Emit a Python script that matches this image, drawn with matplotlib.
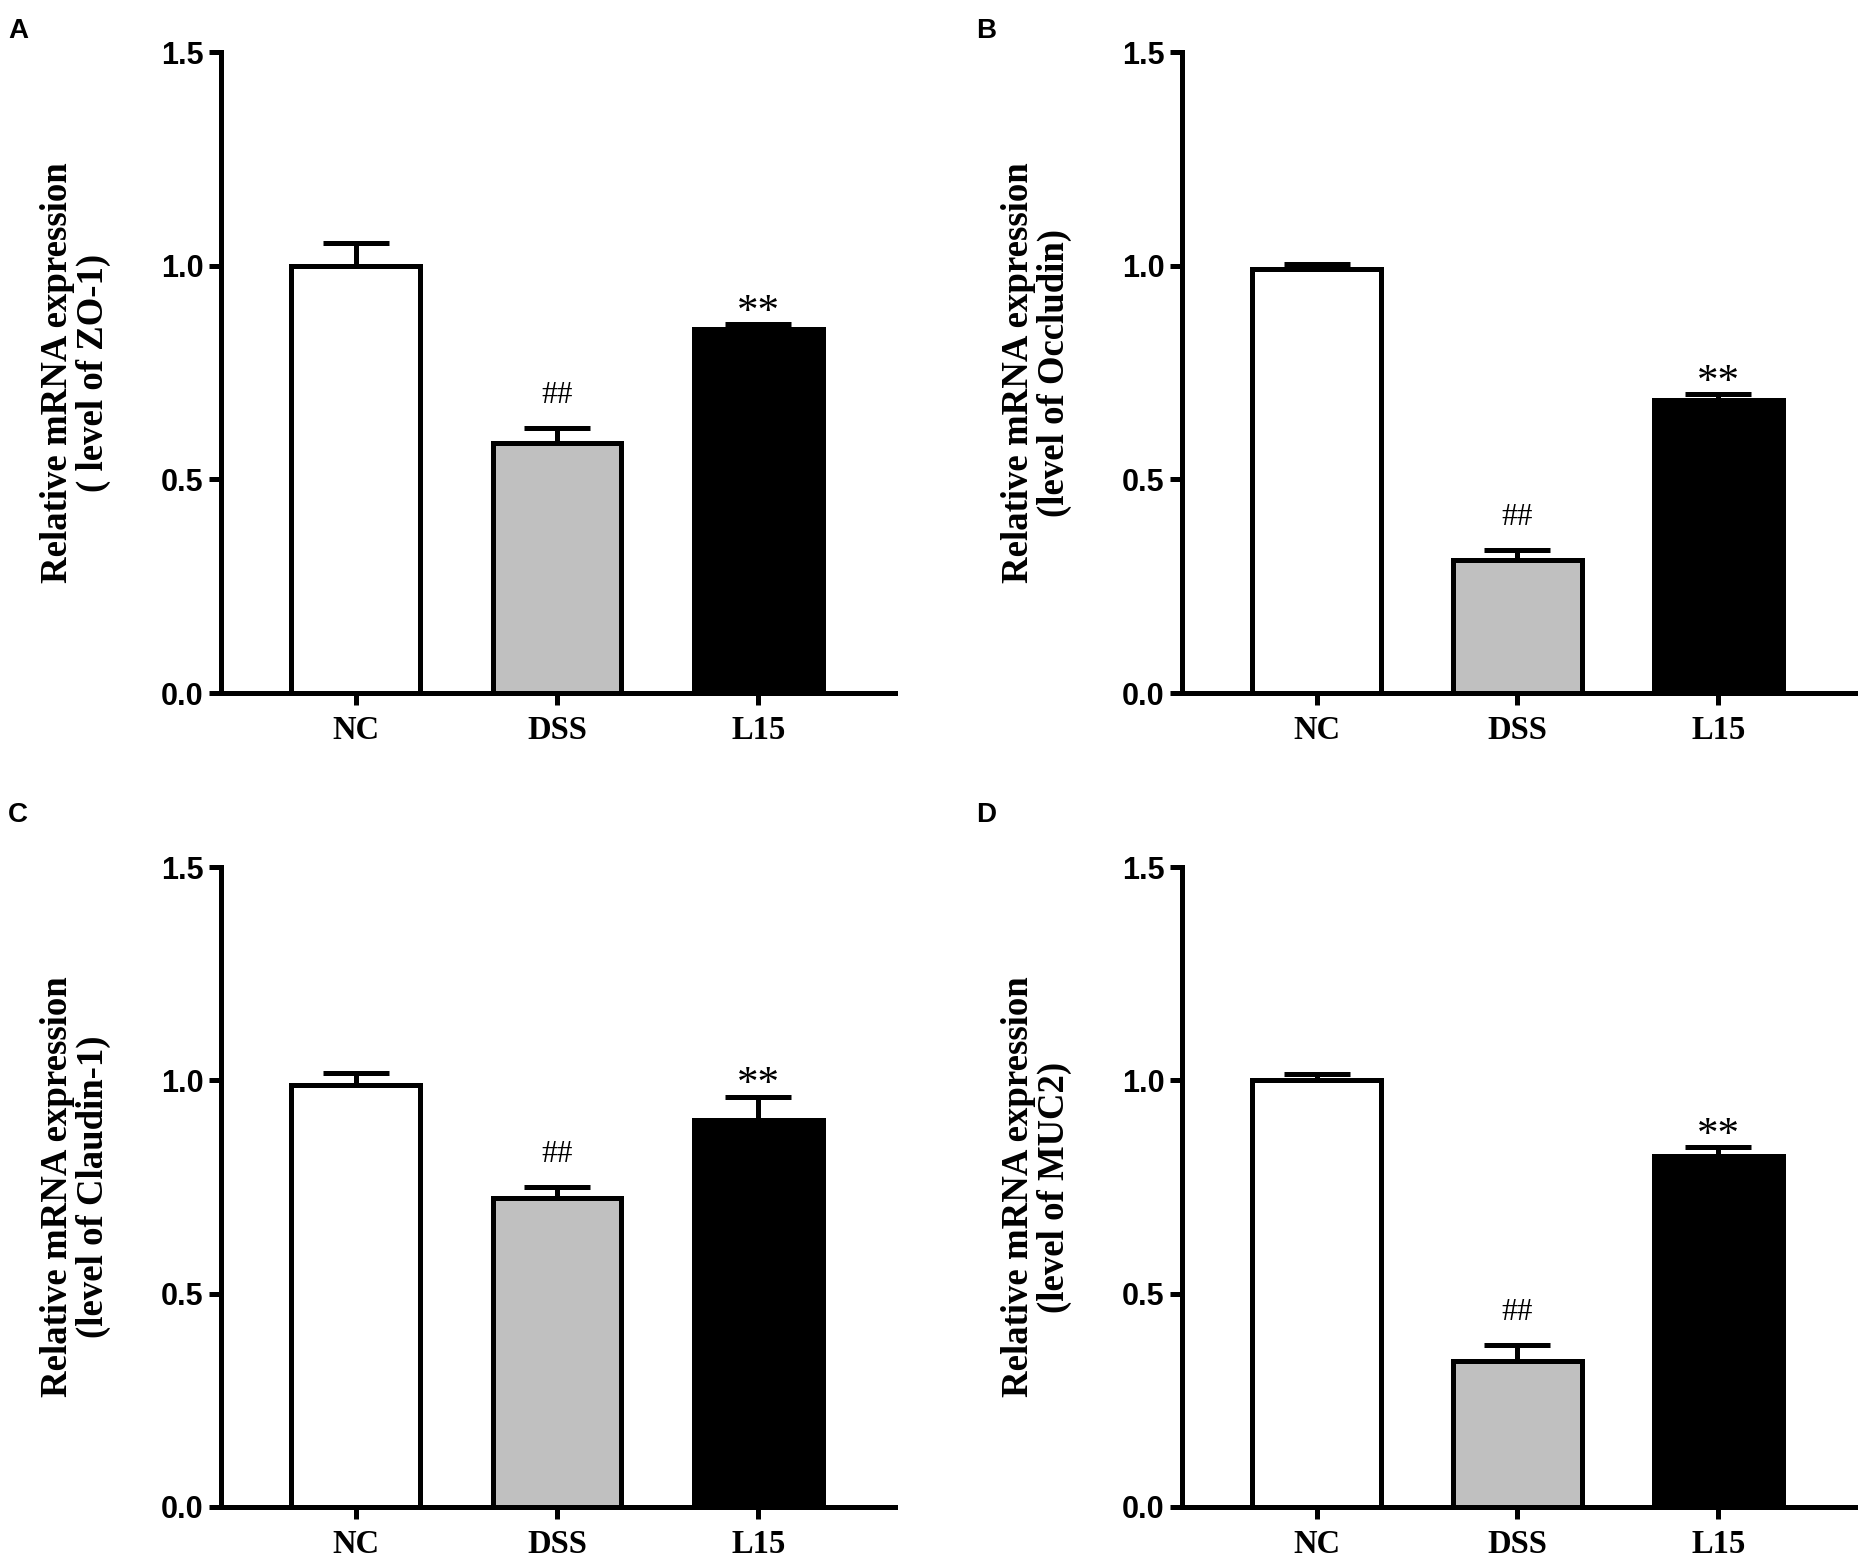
import matplotlib
matplotlib.use("Agg")
import matplotlib.pyplot as plt

groups = ["NC", "DSS", "L15"]
bar_colors = ["#ffffff", "#c0c0c0", "#000000"]

panel_letters = ["A", "B", "C", "D"]
ylabels = [
    "Relative mRNA expression\n( level of ZO-1)",
    "Relative mRNA expression\n(level of Occludin)",
    "Relative mRNA expression\n(level of Claudin-1)",
    "Relative mRNA expression\n(level of MUC2)",
]

zo1_mean = [1.000, 0.585, 0.852]
zo1_err = [0.052, 0.034, 0.011]
occludin_mean = [0.992, 0.312, 0.686]
occludin_err = [0.011, 0.022, 0.013]
claudin_mean = [0.989, 0.724, 0.907]
claudin_err = [0.029, 0.025, 0.055]
muc2_mean = [1.000, 0.343, 0.823]
muc2_err = [0.015, 0.037, 0.021]

marks = ["", "##", "**"]

yticks = [0.0, 0.5, 1.0, 1.5]
ytick_labels = ["0.0", "0.5", "1.0", "1.5"]

means = [zo1_mean, occludin_mean, claudin_mean, muc2_mean]
errs = [zo1_err, occludin_err, claudin_err, muc2_err]

W, H = 1862, 1562
fig = plt.figure(figsize=(W / 100, H / 100), dpi=100)

# axes boxes in pixels: (left, top, right, bottom)
boxes = [
    (221, 52, 895, 693),
    (1182, 52, 1855, 693),
    (221, 867, 895, 1507),
    (1182, 867, 1855, 1507),
]
letter_pos = [(8, 38), (976, 38), (8, 822), (976, 822)]

serif = ["Liberation Serif", "DejaVu Serif"]
sans = ["Liberation Sans", "DejaVu Sans"]
LW = 3.6

for i in range(4):
    l, t, r, b = boxes[i]
    ax = fig.add_axes([l / W, 1 - b / H, (r - l) / W, (b - t) / H])
    x = list(range(len(groups)))
    ax.errorbar(x, means[i], yerr=[[0, 0, 0], errs[i]], fmt="none",
                ecolor="black", elinewidth=LW, capsize=24, capthick=LW,
                zorder=1)
    ax.bar(x, means[i], width=0.64, color=bar_colors, edgecolor="black",
           linewidth=LW, zorder=2)
    for j in range(len(groups)):
        if marks[j] == "##":
            ax.annotate("##", (x[j], means[i][j] + errs[i][j]),
                        xytext=(0, 18), textcoords="offset points",
                        ha="center", va="baseline", fontsize=22.5,
                        family=serif)
        elif marks[j] == "**":
            ax.annotate("**", (x[j], means[i][j] + errs[i][j]),
                        xytext=(0, 1), textcoords="offset points",
                        ha="center", va="baseline", fontsize=31,
                        family=serif)
    ax.set_xlim(-0.67, 2.68)
    ax.set_ylim(0, 1.5)
    ax.set_yticks(yticks)
    ax.set_yticklabels(ytick_labels, fontsize=22, fontweight="bold",
                       family=sans)
    ax.set_xticks(x)
    ax.set_xticklabels(groups, fontsize=23.5, fontweight="bold", family=serif)
    ax.tick_params(axis="both", length=8.6, width=LW, direction="out")
    ax.tick_params(axis="y", pad=4)
    ax.tick_params(axis="x", pad=7)
    for s in ["top", "right"]:
        ax.spines[s].set_visible(False)
    for s in ["left", "bottom"]:
        ax.spines[s].set_linewidth(LW)
    ax.set_ylabel(ylabels[i], fontsize=26.5, fontweight="bold", family=serif,
                  linespacing=1.05)
    ax.yaxis.set_label_coords(-110 / (r - l), 0.5)
    fig.text(letter_pos[i][0] / W, 1 - letter_pos[i][1] / H, panel_letters[i],
             fontsize=20, fontweight="bold", family=sans, ha="left",
             va="baseline")

fig.savefig("out.png", dpi=100, facecolor="white")
